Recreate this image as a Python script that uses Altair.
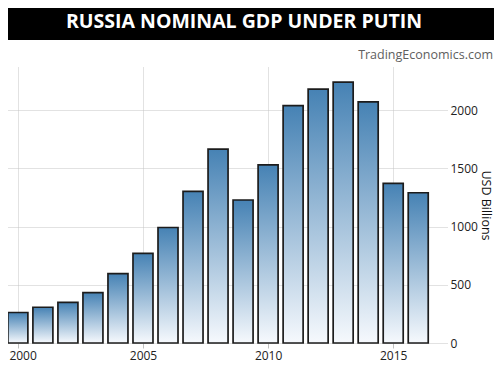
import altair as alt
import pandas as pd

years = [2000, 2001, 2002, 2003, 2004, 2005, 2006, 2007, 2008,
         2009, 2010, 2011, 2012, 2013, 2014, 2015, 2016]
gdp = [262, 307, 348, 432, 596, 770, 992, 1302, 1665,
       1228, 1530, 2038, 2180, 2240, 2070, 1370, 1290]
x_ticks = [2000, 2005, 2010, 2015]
y_ticks = [0, 500, 1000, 1500, 2000]
title_text = "RUSSIA NOMINAL GDP UNDER PUTIN"
source_text = "TradingEconomics.com"
y_title = "USD Billions"

df = pd.DataFrame({"year": years, "gdp": gdp})

W, H = 439, 276
FONT = "Open Sans"

grad = alt.Gradient(
    gradient="linear",
    stops=[alt.GradientStop(color="#4682B4", offset=0),
           alt.GradientStop(color="#f6f9fd", offset=1)],
    x1=0, x2=0, y1=0, y2=1,
)

bars = alt.Chart(df).mark_bar(
    size=20, color=grad, stroke="#1c1c1c", strokeWidth=1.7
).encode(
    x=alt.X("year:Q",
            scale=alt.Scale(domain=[1999.805, 2016.95], nice=False, zero=False),
            axis=alt.Axis(values=x_ticks, format="d", title=None, domain=False,
                          grid=True, gridColor="#c4c4c4", gridDash=[1, 1],
                          tickColor="#c0c0c0", tickSize=5, labelPadding=2,
                          labelFont=FONT, labelFontSize=12, labelColor="#222",
                          labelAlign=alt.expr("datum.value == 2000 ? 'left' : 'center'"),
                          labelOffset=alt.expr("datum.value == 2000 ? -9 : 0"),
                          labelFlush=False)),
    y=alt.Y("gdp:Q",
            scale=alt.Scale(domain=[0, 2370], nice=False),
            axis=alt.Axis(orient="right", values=y_ticks, format="d", title=y_title,
                          domain=False, ticks=False, labelPadding=3,
                          grid=True, gridColor="#c4c4c4", gridDash=[1, 1],
                          labelFont=FONT, labelFontSize=12, labelColor="#222",
                          labelAlign="left", labelBaseline="middle",
                          titleFont=FONT, titleFontSize=12.5, titleFontWeight="normal",
                          titleColor="#111", titleAngle=90, titleX=38, titleY=138,
                          titleAlign="center", titleBaseline="middle")),
)

band = alt.Chart(pd.DataFrame({"k": [1]})).mark_rect(color="black").encode(
    x=alt.value(0), x2=alt.value(486), y=alt.value(-59), y2=alt.value(-27)
)

title = alt.Chart(pd.DataFrame({"t": [title_text]})).mark_text(
    font=FONT, fontSize=19.5, fontWeight="bold", color="white",
    align="center", baseline="middle"
).encode(text="t:N", x=alt.value(236), y=alt.value(-45))

source = alt.Chart(pd.DataFrame({"t": [source_text]})).mark_text(
    font=FONT, fontSize=12.5, color="#606060", align="right", baseline="middle"
).encode(text="t:N", x=alt.value(485), y=alt.value(-12))

chart = alt.layer(band, title, source, bars).properties(
    width=W, height=H,
    autosize=alt.AutoSizeParams(type="none"),
    padding={"left": 0, "top": 59, "right": 47, "bottom": 24},
).configure_view(stroke=None)

chart.save("out.html", embed_options={"renderer": "svg", "actions": False})
